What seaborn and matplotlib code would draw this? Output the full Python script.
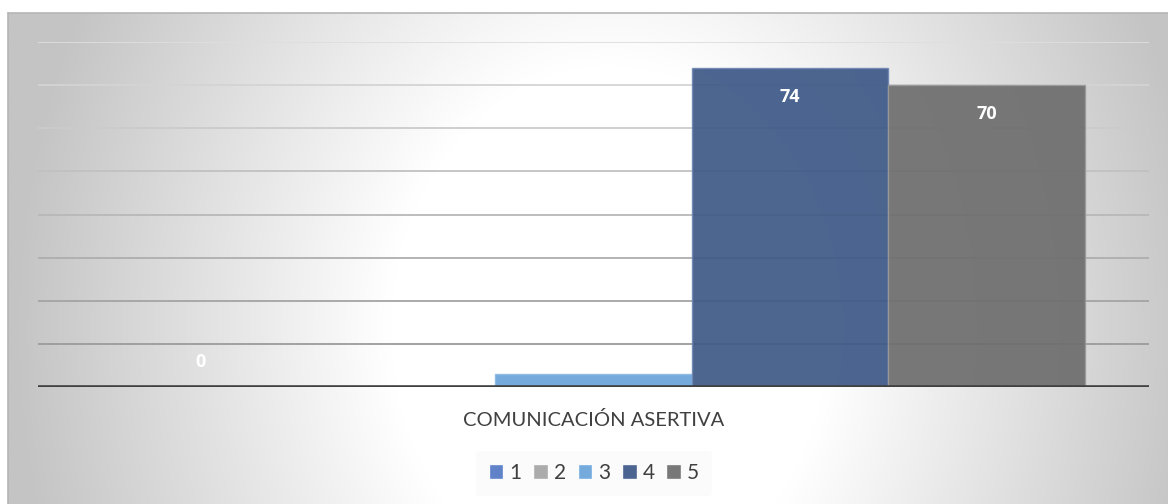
import numpy as np
import pandas as pd
import matplotlib
matplotlib.use("Agg")
import matplotlib.pyplot as plt
import seaborn as sns
from matplotlib.lines import Line2D

categories = ["COMUNICACIÓN ASERTIVA"]
series = ["1", "2", "3", "4", "5"]
values = [0, 0, 3, 74, 70]
colors = ["#5479c6", "#a5a5a5", "#6aa5da", "#3f5a88", "#6e6e6e"]
edge_colors = ["#7d9ad4", "#bcbcbc", "#8cbbe3", "#6f88b3", "#9a9a9a"]

sns.set_theme(style="white")
plt.rcParams['font.family'] = ['Lato', 'DejaVu Sans']

W, H = 1168, 504
fig = plt.figure(figsize=(W / 100, H / 100), dpi=100)

# chart-area background with radial gradient
bg = fig.add_axes([8 / W, 0, (W - 8) / W, (H - 13) / H])
xs = np.linspace(8, W, 600)
ys = np.linspace(13, H, 260)
X, Y = np.meshgrid(xs, ys)
d = np.sqrt(((X - 610) / 580) ** 2 + ((Y - 330) / 700) ** 2)
t = np.clip((d - 0.38) / 0.65, 0, 1)
g = (255 - 59 * t) / 255
bg.imshow(np.dstack([g, g, g]), aspect="auto", extent=(0, 1, 0, 1), origin="upper")
bg.set_axis_off()
fig.add_artist(Line2D([8 / W, 1], [1 - 13 / H, 1 - 13 / H], transform=fig.transFigure, color="#b5b5b5", lw=1.2))
fig.add_artist(Line2D([8 / W, 8 / W], [0, 1 - 13 / H], transform=fig.transFigure, color="#b5b5b5", lw=1.2))

ax = fig.add_axes([38 / W, 1 - 387 / H, (1149 - 38) / W, (387 - 42) / H])
ax.patch.set_alpha(0)

df = pd.DataFrame({"cat": categories * len(series), "series": series, "value": values})
sns.barplot(data=df, x="cat", y="value", hue="series", palette=colors, width=0.884,
            gap=0, ax=ax, alpha=0.93, saturation=1, zorder=3, err_kws={"linewidth": 0})

for cont, ec in zip(ax.containers, edge_colors):
    for p in cont.patches:
        p.set_edgecolor(ec)
        p.set_linewidth(1.0)

ax.set_ylim(0, 80)
ax.set_yticks(np.arange(0, 81, 10))
for v in ax.get_yticks():
    if v <= 0:
        continue
    c = 0.87 - 0.30 * (1 - v / 80)
    ax.axhline(v, color=(c, c, c), lw=1.3, zorder=1)
ax.axhline(0, color="#404040", lw=2.6, zorder=5)

# data labels (white, bold, inside end)
for cont, val in zip(ax.containers, values):
    for p in cont.patches:
        xc = p.get_x() + p.get_width() / 2
        if val >= 10:
            off = -29
        elif val > 0:
            off = 15
        else:
            off = 25
        ax.annotate(f"{val}", xy=(xc, p.get_height()), xytext=(0, off),
                    textcoords="offset pixels", ha="center", va="center",
                    color="white", fontsize=13, fontweight="bold",
                    family=["Open Sans", "DejaVu Sans"], zorder=6)

for s in ax.spines.values():
    s.set_visible(False)
ax.set_xlabel("")
ax.set_ylabel("")
ax.set_yticklabels([])
ax.tick_params(axis="x", length=0, pad=17, labelsize=14.5, labelcolor="#404040")
ax.tick_params(axis="y", length=0)

sns.move_legend(ax, loc="center", bbox_to_anchor=(594 / W, 1 - 473 / H),
                bbox_transform=fig.transFigure, ncol=5, frameon=True, title=None,
                handlelength=0.7, handleheight=0.7, handletextpad=0.3,
                columnspacing=0.55, fontsize=15, borderpad=0.6)
leg = ax.get_legend()
leg.get_frame().set_facecolor("#fafafa")
leg.get_frame().set_edgecolor("none")
leg.get_frame().set_alpha(0.8)
for txt in leg.get_texts():
    txt.set_color("#404040")

fig.savefig("out.png", dpi=100)
